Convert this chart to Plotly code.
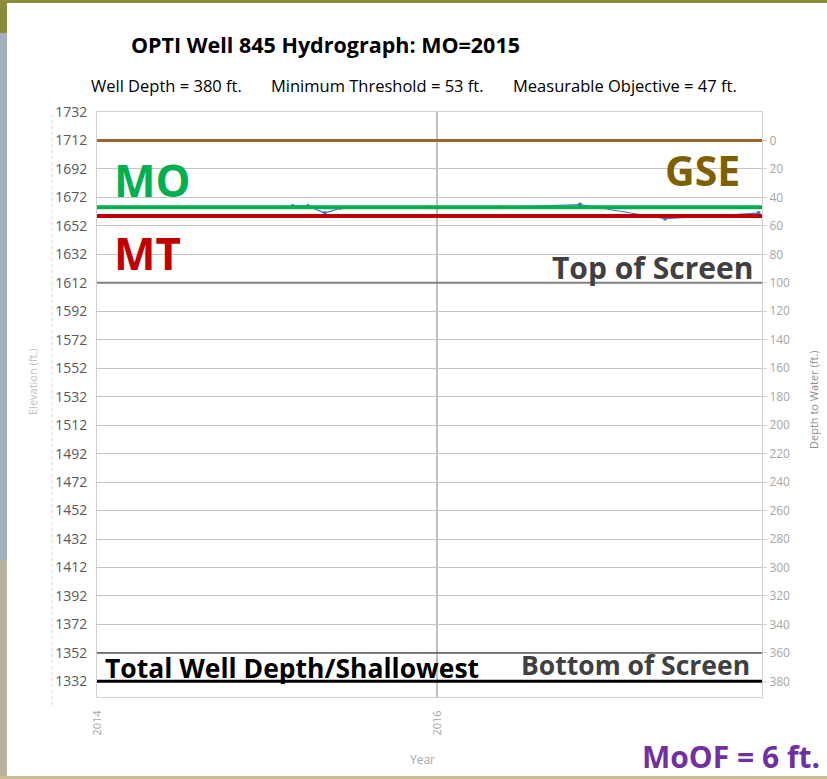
import plotly.graph_objects as go

# ---- well reference values (ft.) ----
gse_elevation = 1712          # ground surface elevation
well_depth = 380
min_threshold_depth = 53      # MT
measurable_objective_depth = 47  # MO
top_screen_depth = 100
bottom_screen_depth = 360
moof = min_threshold_depth - measurable_objective_depth  # margin of operational flexibility

# ---- measured groundwater elevations ----
years = [2015.15, 2015.24, 2015.34, 2015.43, 2015.94, 2016.37, 2016.84, 2017.34, 2017.89]
elevations = [1666, 1666, 1661, 1664.5, 1665, 1665, 1667, 1657, 1661]

# ---- axes ----
x_range = [2014, 2017.91]
x_ticks = [2014, 2016]
elev_ticks = list(range(1332, 1733, 20))
elev_range = [1321, 1732]
depth_ticks = list(range(0, 381, 20))

W, H = 827, 779
ML, MR, MT_, MB = 97, 65, 112, 82
PW, PH = W - ML - MR, H - MT_ - MB


def px(x):
    return (x - ML) / PW


def py(y):
    return (H - MB - y) / PH


FONT = "Open Sans"

fig = go.Figure()

# measured hydrograph (drawn first so reference lines sit over it)
fig.add_trace(go.Scatter(
    x=years, y=elevations, mode="lines+markers",
    line=dict(color="#4472C4", width=1.2),
    marker=dict(size=4, color="#4472C4"),
    showlegend=False, hoverinfo="skip"))


def hline(elev, color, width):
    fig.add_trace(go.Scatter(
        x=x_range, y=[elev, elev], mode="lines",
        line=dict(color=color, width=width),
        showlegend=False, hoverinfo="skip"))


hline(gse_elevation - top_screen_depth, "#7f7f7f", 2)
hline(gse_elevation - bottom_screen_depth, "#595959", 1.5)
hline(gse_elevation - well_depth, "#000000", 3)
hline(gse_elevation, "#9C6530", 3)
hline(gse_elevation - measurable_objective_depth, "#00B050", 4)
hline(gse_elevation - min_threshold_depth, "#C00000", 4)

# secondary axis carrier (depth to water)
fig.add_trace(go.Scatter(x=[None], y=[None], yaxis="y2", showlegend=False))

fig.update_layout(
    width=W, height=H,
    margin=dict(l=ML, r=MR, t=MT_, b=MB),
    paper_bgcolor="white", plot_bgcolor="white",
    font=dict(family=FONT),
    xaxis=dict(
        range=x_range, tickvals=x_ticks, ticktext=[str(t) for t in x_ticks],
        tickangle=-90, tickfont=dict(size=11, color="#a6a6a6"),
        showgrid=True, gridcolor="#bfbfbf", gridwidth=1.5,
        zeroline=False, showline=True, linecolor="#d0d0d0", mirror=True,
        ticks="", ticklabelstandoff=8),
    yaxis=dict(
        range=elev_range, tickvals=elev_ticks, ticktext=[str(t) for t in elev_ticks],
        tickfont=dict(size=14, color="#595959"),
        showgrid=True, gridcolor="#c4c4c4", gridwidth=1,
        zeroline=False, showline=True, linecolor="#d0d0d0", mirror=True,
        ticks="", ticklabelstandoff=6),
    yaxis2=dict(
        overlaying="y", side="right",
        range=[gse_elevation - elev_range[0], gse_elevation - elev_range[1]],
        tickvals=depth_ticks, ticktext=[str(t) for t in depth_ticks],
        tickfont=dict(size=12, color="#a6a6a6"),
        showgrid=False, zeroline=False, showline=False,
        ticks="outside", ticklen=4, tickcolor="#d0d0d0"),
)

# slide frame decorations
shapes = [
    dict(type="rect", xref="paper", yref="paper", x0=px(0), x1=px(W), y0=py(3), y1=py(0),
         fillcolor="#8A8C3C", line_width=0, layer="below"),
    dict(type="rect", xref="paper", yref="paper", x0=px(0), x1=px(7), y0=py(33), y1=py(0),
         fillcolor="#8A8C3C", line_width=0, layer="below"),
    dict(type="rect", xref="paper", yref="paper", x0=px(0), x1=px(7), y0=py(560), y1=py(33),
         fillcolor="#A3B0BD", line_width=0, layer="below"),
    dict(type="rect", xref="paper", yref="paper", x0=px(0), x1=px(7), y0=py(H), y1=py(560),
         fillcolor="#B9B39C", line_width=0, layer="below"),
    dict(type="rect", xref="paper", yref="paper", x0=px(0), x1=px(W), y0=py(779), y1=py(776),
         fillcolor="#C9BC92", line_width=0, layer="below"),
    dict(type="line", xref="paper", yref="paper", x0=px(52), x1=px(52), y0=py(705), y1=py(115),
         line=dict(color="#d4d4d4", width=1, dash="dot")),
]
fig.update_layout(shapes=shapes)

ann = []


def label(text, x, y, size, color, xanchor="center", xref="paper", yref="paper",
          bold=False, angle=0):
    ann.append(dict(
        text=f"<b>{text}</b>" if bold else text, x=x, y=y, xref=xref, yref=yref,
        xanchor=xanchor, yanchor="middle", showarrow=False, textangle=angle,
        font=dict(family=FONT, size=size, color=color)))


# titles
label("OPTI Well 845 Hydrograph: MO=2015", px(325), py(45), 21.5, "#000000", bold=True)
label(f"Well Depth = {well_depth} ft.", px(166), py(86), 16.5, "#000000")
label(f"Minimum Threshold = {min_threshold_depth} ft.", px(377), py(86), 16.5, "#000000")
label(f"Measurable Objective = {measurable_objective_depth} ft.", px(625), py(86), 16.5, "#000000")

# axis titles
label("Elevation (ft.)", px(32), py(382), 11, "#c0c0c0", angle=-90)
label("Depth to Water (ft.)", px(813), py(400), 11, "#8c8c8c", angle=-90)
label("Year", px(422), py(759), 12, "#a6a6a6")

# line labels
label("MO", 2014.09, 1684, 44, "#00B050", xanchor="left", xref="x", yref="y", bold=True)
label("GSE", 2017.79, 1691, 41, "#7F6000", xanchor="right", xref="x", yref="y", bold=True)
label("MT", 2014.09, 1633, 44, "#C00000", xanchor="left", xref="x", yref="y", bold=True)
label("Top of Screen", 2017.87, 1622.5, 30, "#404040", xanchor="right", xref="x", yref="y", bold=True)
label("Total Well Depth/Shallowest", 2014.035, 1341.5, 26.5, "#000000", xanchor="left",
      xref="x", yref="y", bold=True)
label("Bottom of Screen", 2017.85, 1343.5, 26.5, "#404040", xanchor="right", xref="x", yref="y",
      bold=True)
label(f"MoOF = {moof} ft.", px(822), py(756), 30, "#7030A0", xanchor="right", bold=True)

fig.update_layout(annotations=ann)

fig.write_html("out.html")
